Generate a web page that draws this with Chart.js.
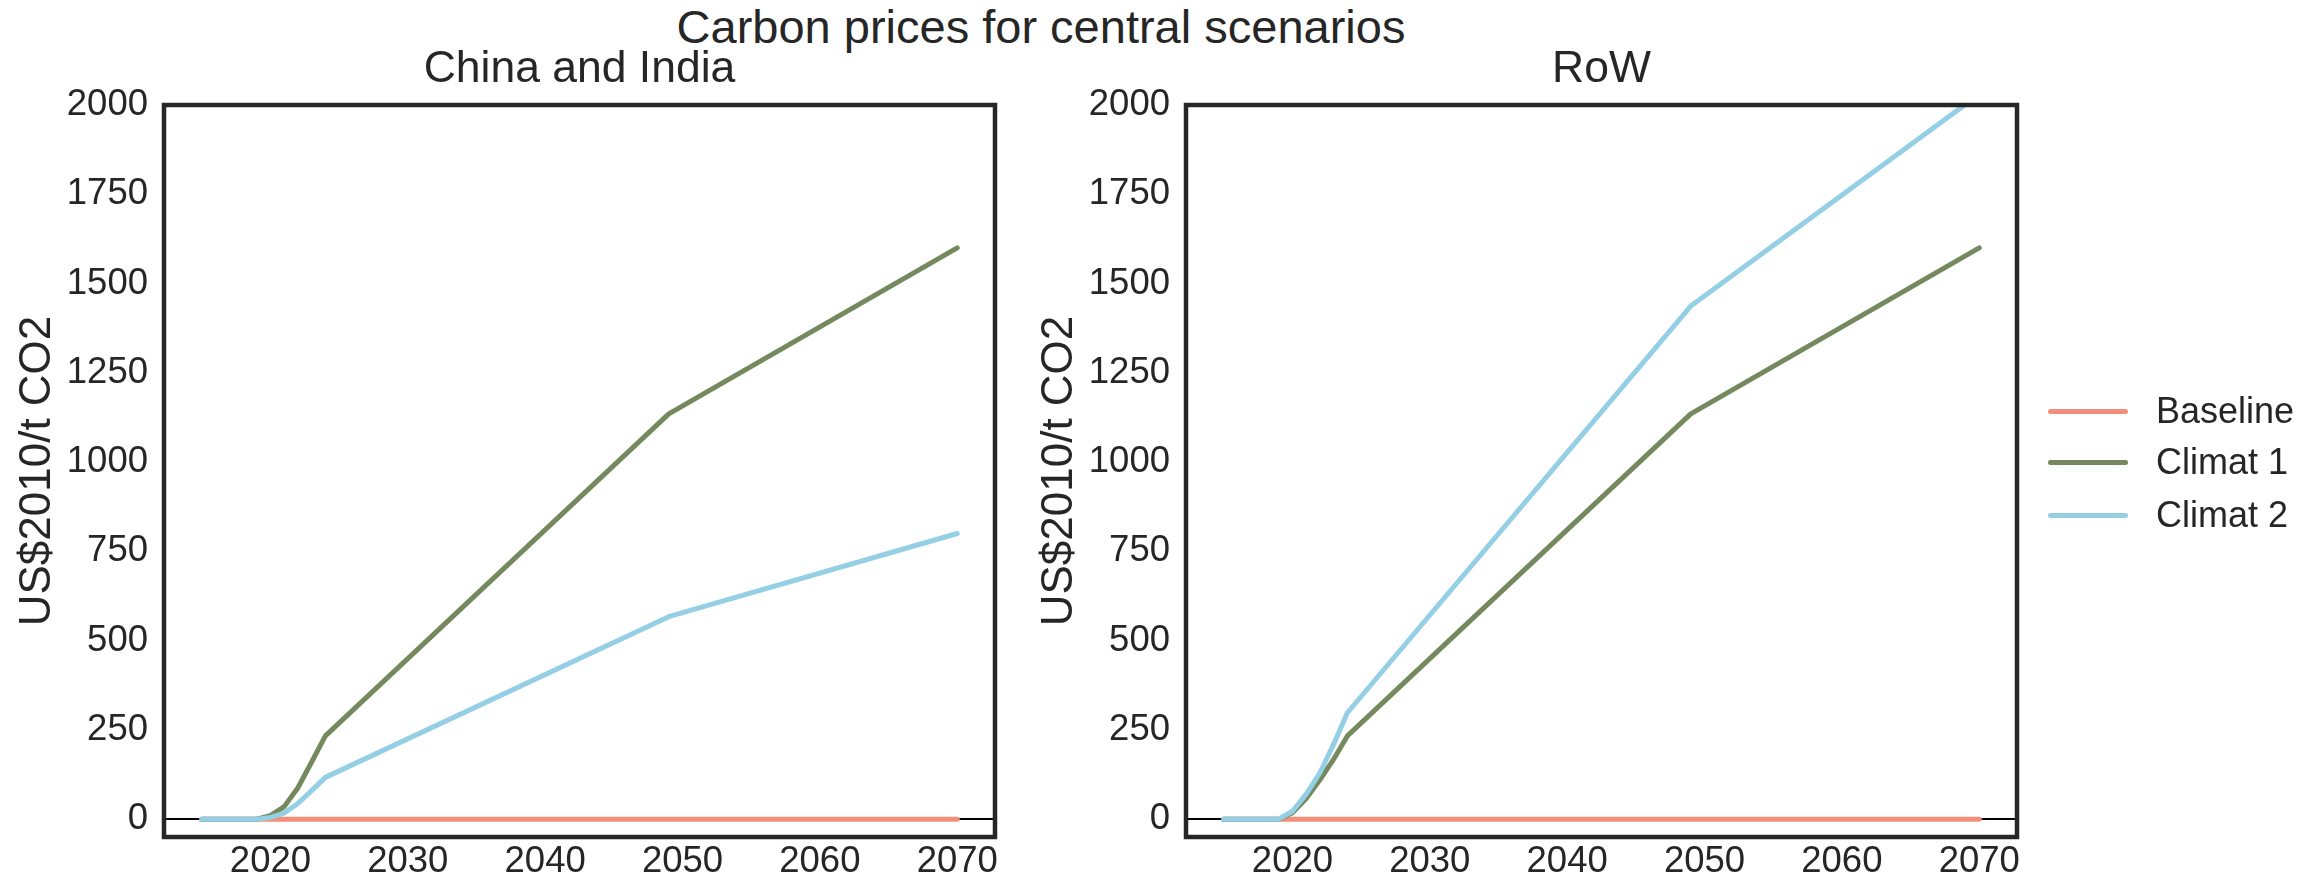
<!DOCTYPE html>
<html>
<head>
<meta charset="utf-8">
<script src="https://cdn.jsdelivr.net/npm/chart.js@4"></script>
<style>
  body { margin: 0; background: #fff; width: 2323px; height: 879px; position: relative; overflow: hidden;
         font-family: "Liberation Sans", Arial, sans-serif; color: #262626; }
  canvas { position: absolute; top: 0; }
  #suptitle { position: absolute; top: 0; left: 0; width: 2082px; text-align: center; font-size: 47px; line-height: 54px; }
  .legend-row { position: absolute; left: 2048px; height: 40px; display: flex; align-items: center; font-size: 36px; }
  .legend-row span.line { display: inline-block; width: 80px; height: 5px; border-radius: 3px; margin-right: 28px; }
</style>
</head>
<body>
<div id="suptitle">Carbon prices for central scenarios</div>
<canvas id="chinaChart" width="1040" height="879" style="left:0px"></canvas>
<canvas id="rowChart" width="1040" height="879" style="left:1022px"></canvas>
<div id="legend"></div>
<script>
// data
const years = [2015, 2019, 2020, 2021, 2022, 2023, 2024, 2049, 2070];
const baseline = [0, 0, 0, 0, 0, 0, 0, 0, 0];
const climat1China = [0, 0, 10, 35, 88, 160, 233, 1135, 1600];
const climat2China = [0, 0, 5, 17, 44, 80, 117, 567, 800];
const climat1RoW = [0, 0, 18, 58, 110, 168, 233, 1135, 1600];
const climat2RoW = [0, 0, 22, 70, 130, 210, 298, 1437, 2030];

const xTicks = [2020, 2030, 2040, 2050, 2060, 2070];
const yTicks = [0, 250, 500, 750, 1000, 1250, 1500, 1750, 2000];

const seriesNames = ["Baseline", "Climat 1", "Climat 2"];
const seriesColors = ["#F28E79", "#74895E", "#94CFE5"];
const textColor = "#262626";

function toPoints(vals) {
  return years.map((y, i) => ({ x: y, y: vals[i] }));
}

// box round the plot area, like matplotlib spines
const framePlugin = {
  id: "frame",
  afterDraw(chart) {
    const { ctx, chartArea: a } = chart;
    ctx.save();
    ctx.strokeStyle = textColor;
    ctx.lineWidth = 4.5;
    ctx.strokeRect(a.left, a.top, a.right - a.left, a.bottom - a.top);
    ctx.restore();
  },
};

function makeChart(id, title, c1, c2) {
  const ctx = document.getElementById(id);
  // Climat 2 first so it is drawn on top
  const sets = [
    { label: seriesNames[2], data: toPoints(c2), borderColor: seriesColors[2] },
    { label: seriesNames[1], data: toPoints(c1), borderColor: seriesColors[1] },
    { label: seriesNames[0], data: toPoints(baseline), borderColor: seriesColors[0] },
  ].map((d) => ({
    ...d,
    borderWidth: 5,
    pointRadius: 0,
    tension: 0,
    fill: false,
    clip: 0,
    borderCapStyle: "round",
    borderJoinStyle: "round",
  }));

  return new Chart(ctx, {
    type: "line",
    data: { datasets: sets },
    options: {
      responsive: false,
      animation: false,
      events: [],
      layout: { padding: { top: 43, right: 45, bottom: 0, left: 0 } },
      plugins: {
        legend: { display: false },
        tooltip: { enabled: false },
        title: {
          display: true,
          text: title,
          fullSize: false,
          color: textColor,
          font: { family: "Liberation Sans", size: 44.5, weight: "normal" },
          padding: { top: 0, bottom: 8.6 },
        },
      },
      scales: {
        x: {
          type: "linear",
          min: 2012.25,
          max: 2072.75,
          afterBuildTicks: (axis) => {
            axis.ticks = xTicks.map((v) => ({ value: v }));
          },
          afterFit: (scale) => {
            scale.height = 42;
          },
          grid: { display: false, drawTicks: false },
          border: { display: false },
          ticks: {
            padding: 3,
            color: textColor,
            maxRotation: 0,
            font: { family: "Liberation Sans", size: 36.5 },
            callback: (v) => String(v),
          },
        },
        y: {
          type: "linear",
          min: -50,
          max: 2000,
          afterBuildTicks: (axis) => {
            axis.ticks = yTicks.map((v) => ({ value: v }));
          },
          afterFit: (scale) => {
            scale.width = 164;
          },
          grid: {
            drawTicks: false,
            lineWidth: 2,
            color: (c) => (c.tick && c.tick.value === 0 ? "#000" : "rgba(0,0,0,0)"),
          },
          border: { display: false },
          ticks: {
            padding: 16,
            color: textColor,
            font: { family: "Liberation Sans", size: 36.5 },
            callback: (v) => String(v),
          },
          title: {
            display: true,
            text: "US$2010/t CO2",
            color: textColor,
            font: { family: "Liberation Sans", size: 44 },
            padding: { top: 11, bottom: 0 },
          },
        },
      },
    },
    plugins: [framePlugin],
  });
}

makeChart("chinaChart", "China and India", climat1China, climat2China);
makeChart("rowChart", "RoW", climat1RoW, climat2RoW);

// legend outside, right of the RoW panel
const legendTops = [391, 442, 495];
const legend = document.getElementById("legend");
seriesNames.forEach((name, i) => {
  const row = document.createElement("div");
  row.className = "legend-row";
  row.style.top = legendTops[i] + "px";
  const line = document.createElement("span");
  line.className = "line";
  line.style.background = seriesColors[i];
  row.appendChild(line);
  row.appendChild(document.createTextNode(name));
  legend.appendChild(row);
});
</script>
</body>
</html>
